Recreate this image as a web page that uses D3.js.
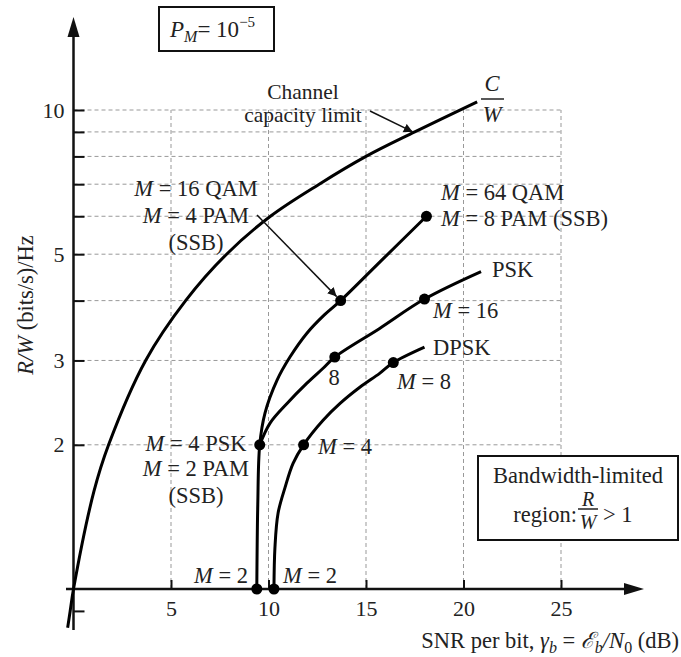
<!DOCTYPE html>
<html>
<head>
<meta charset="utf-8">
<script src="https://cdn.jsdelivr.net/npm/d3@7"></script>
<style>
body { margin: 0; background: #fff; }
svg text { font-family: "Liberation Serif", "Times New Roman", serif; fill: #222; }
</style>
</head>
<body>
<svg id="chart" width="681" height="657"></svg>
<script>
// values: [SNR per bit (dB), R/W (bits/s)/Hz]
var capacity = [[-0.3, 0.83], [-0.17, 0.9], [0, 1], [1.05, 1.6], [1.8, 2], [3.7, 3], [5.75, 4],
                [7.85, 5], [10.1, 6], [12.6, 7], [15.0, 8], [17.5, 9], [20.7, 10.4]];
var qam = [[9.4, 1], [9.45, 1.5], [9.55, 2], [9.82, 2.33], [10.44, 2.73], [11.1, 3.05], [11.97, 3.42],
           [12.85, 3.73], [13.7, 4], [15.9, 4.9], [18.1, 6]];
var psk = [[9.55, 2], [10.08, 2.22], [10.95, 2.44], [11.97, 2.69], [12.8, 2.89], [13.4, 3.05],
           [15.7, 3.5], [18.0, 4.03], [20.9, 4.6]];
var dpsk = [[10.28, 1], [10.33, 1.22], [10.49, 1.44], [10.85, 1.63], [11.26, 1.83], [11.8, 2],
            [12.8, 2.25], [13.67, 2.44], [14.7, 2.64], [15.7, 2.82], [16.4, 2.97], [18.0, 3.2]];
var dots = [[9.4, 1], [9.55, 2], [13.7, 4], [18.1, 6], [13.4, 3.05], [18.0, 4.03],
            [10.28, 1], [11.8, 2], [16.4, 2.97]];
var xticks = [5, 10, 15, 20, 25];
var yticks = [0.9, 2, 3, 4, 5, 6, 7, 8, 9, 10];
var ylabels = [2, 3, 5, 10];
var grid_y = [2, 3, 4, 5, 6, 7, 8, 9, 10];

var svg = d3.select("#chart");
var xscale = d3.scaleLinear().domain([0, 25]).range([73.5, 561]);
var yscale = d3.scaleLog().domain([1, 10]).range([589, 110]);
var fs = 22.5;

// grid
var grid = svg.append("g")
    .attr("stroke", "#999")
    .attr("stroke-width", 1)
    .attr("stroke-dasharray", "4,3");
grid.selectAll(".gy").data(grid_y).enter().append("line")
    .attr("x1", xscale(0)).attr("x2", xscale(25))
    .attr("y1", function(d) { return yscale(d); })
    .attr("y2", function(d) { return yscale(d); });
grid.selectAll(".gx").data(xticks).enter().append("line")
    .attr("x1", function(d) { return xscale(d); })
    .attr("x2", function(d) { return xscale(d); })
    .attr("y1", yscale(1)).attr("y2", yscale(10));

// axes
var xAxis = d3.axisBottom(xscale).tickValues(xticks).tickSizeInner(-9).tickSizeOuter(0).tickPadding(11);
var yAxis = d3.axisLeft(yscale).tickValues(yticks).tickSizeInner(-11).tickSizeOuter(0).tickPadding(9)
    .tickFormat(function(d) { return ylabels.indexOf(d) >= 0 ? d : ""; });

var gx = svg.append("g").attr("transform", "translate(0," + yscale(1) + ")").call(xAxis);
var gy = svg.append("g").attr("transform", "translate(" + xscale(0) + ",0)").call(yAxis);
[gx, gy].forEach(function(g) {
    g.select(".domain").remove();
    g.selectAll(".tick line").attr("stroke", "#111").attr("stroke-width", 2);
    g.selectAll(".tick text").attr("font-size", 22).attr("font-family", null).attr("fill", "#222");
});

var ax = svg.append("g").attr("fill", "#111").attr("stroke", "#111");
ax.append("line").attr("x1", xscale(0)).attr("x2", xscale(0)).attr("y1", 630).attr("y2", 34).attr("stroke-width", 2.5);
ax.append("path").attr("stroke", "none")
    .attr("d", "M" + xscale(0) + ",17L" + (xscale(0) - 6) + ",37L" + (xscale(0) + 6) + ",37Z");
ax.append("line").attr("x1", 66).attr("x2", 628).attr("y1", yscale(1)).attr("y2", yscale(1)).attr("stroke-width", 2.5);
ax.append("path").attr("stroke", "none")
    .attr("d", "M644," + yscale(1) + "L624," + (yscale(1) - 6) + "L624," + (yscale(1) + 6) + "Z");

// curves
var line = d3.line()
    .x(function(d) { return xscale(d[0]); })
    .y(function(d) { return yscale(d[1]); })
    .curve(d3.curveCatmullRom.alpha(0.5));
svg.append("g").selectAll("path")
    .data([capacity, qam, psk, dpsk])
    .enter().append("path")
    .attr("d", line)
    .attr("fill", "none")
    .attr("stroke", "#000")
    .attr("stroke-width", 3);

svg.append("g").selectAll("circle")
    .data(dots)
    .enter().append("circle")
    .attr("cx", function(d) { return xscale(d[0]); })
    .attr("cy", function(d) { return yscale(d[1]); })
    .attr("r", 5.5)
    .attr("fill", "#000");

// annotation arrows
svg.append("defs").append("marker")
    .attr("id", "head")
    .attr("viewBox", "0 0 10 10")
    .attr("refX", 10).attr("refY", 5)
    .attr("markerWidth", 9).attr("markerHeight", 9)
    .attr("markerUnits", "userSpaceOnUse")
    .attr("orient", "auto")
    .append("path").attr("d", "M0,0L10,5L0,10Z").attr("fill", "#111");
function arrow(x1, y1, x2, y2) {
    svg.append("line")
        .attr("x1", x1).attr("y1", y1).attr("x2", x2).attr("y2", y2)
        .attr("stroke", "#111").attr("stroke-width", 1.5)
        .attr("marker-end", "url(#head)");
}
arrow(370, 111, xscale(17.4), yscale(9.0));
arrow(257, 215, xscale(13.7) - 4, yscale(4) - 4);

// text helpers
function label(x, y, parts, anchor, size) {
    var t = svg.append("text")
        .attr("x", x).attr("y", y)
        .attr("dy", "0.35em")
        .attr("font-size", size || fs)
        .attr("text-anchor", anchor || "start");
    parts.forEach(function(p) {
        var s = t.append("tspan").text(p[0]);
        if (p[1]) s.attr("font-style", "italic");
    });
    return t;
}
function mlabel(x, y, rest, anchor) {
    return label(x, y, [["M", 1], [" = " + rest]], anchor);
}

mlabel(196, 188, "16 QAM", "middle");
mlabel(196, 215, "4 PAM", "middle");
label(196, 242, [["(SSB)"]], "middle");
mlabel(441, 192, "64 QAM");
mlabel(441, 218, "8 PAM (SSB)");
label(492, 269, [["PSK"]]);
mlabel(433, 310, "16");
label(334, 377, [["8"]], "middle");
label(433, 347, [["DPSK"]]);
mlabel(397, 381, "8");
mlabel(318, 446, "4");
mlabel(196, 443, "4 PSK", "middle");
mlabel(196, 468, "2 PAM", "middle");
label(196, 495, [["(SSB)"]], "middle");
mlabel(248, 575, "2", "end");
mlabel(283, 575, "2");
label(303, 91, [["Channel"]], "middle", 21.5);
label(303, 114, [["capacity limit"]], "middle", 21.5);

// C/W fraction
label(492, 83, [["C", 1]], "middle");
svg.append("line").attr("x1", 481).attr("x2", 504).attr("y1", 99).attr("y2", 99)
    .attr("stroke", "#222").attr("stroke-width", 1.5);
label(492, 114, [["W", 1]], "middle");

// P_M box
svg.append("rect").attr("x", 159).attr("y", 7).attr("width", 115).attr("height", 44)
    .attr("fill", "none").attr("stroke", "#111").attr("stroke-width", 2);
var pm = svg.append("text").attr("x", 170).attr("y", 37).attr("font-size", 23);
pm.append("tspan").attr("font-style", "italic").text("P");
pm.append("tspan").attr("font-style", "italic").attr("font-size", 16).attr("dy", 5).text("M");
pm.append("tspan").attr("dy", -5).text("= 10");
pm.append("tspan").attr("font-size", 15).attr("dy", -10).text("\u22125");

// bandwidth box
svg.append("rect").attr("x", 478).attr("y", 456).attr("width", 200).attr("height", 84)
    .attr("fill", "#fff").attr("stroke", "#111").attr("stroke-width", 2);
label(578, 475, [["Bandwidth-limited"]], "middle");
label(577, 514, [["region:"]], "end");
label(588, 499, [["R", 1]], "middle", 20);
svg.append("line").attr("x1", 578).attr("x2", 598).attr("y1", 509).attr("y2", 509)
    .attr("stroke", "#222").attr("stroke-width", 1.5);
label(588, 522, [["W", 1]], "middle", 20);
label(603, 514, [["> 1"]]);

// axis titles
var xt = svg.append("text").attr("x", 679).attr("y", 648).attr("font-size", fs).attr("text-anchor", "end");
xt.append("tspan").text("SNR per bit, ");
xt.append("tspan").attr("font-style", "italic").text("\u03b3");
xt.append("tspan").attr("font-style", "italic").attr("font-size", 16).attr("dy", 5).text("b");
xt.append("tspan").attr("dy", -5).text(" = ");
xt.append("tspan").attr("font-style", "italic").text("\u2130");
xt.append("tspan").attr("font-style", "italic").attr("font-size", 16).attr("dy", 5).text("b");
xt.append("tspan").attr("dy", -5).attr("font-style", "italic").text("/N");
xt.append("tspan").attr("font-size", 16).attr("dy", 5).text("0");
xt.append("tspan").attr("dy", -5).text(" (dB)");

var yt = svg.append("text").attr("transform", "translate(25,305) rotate(-90)")
    .attr("dy", "0.35em").attr("font-size", fs).attr("text-anchor", "middle");
yt.append("tspan").attr("font-style", "italic").text("R/W");
yt.append("tspan").text(" (bits/s)/Hz");
</script>
</body>
</html>
